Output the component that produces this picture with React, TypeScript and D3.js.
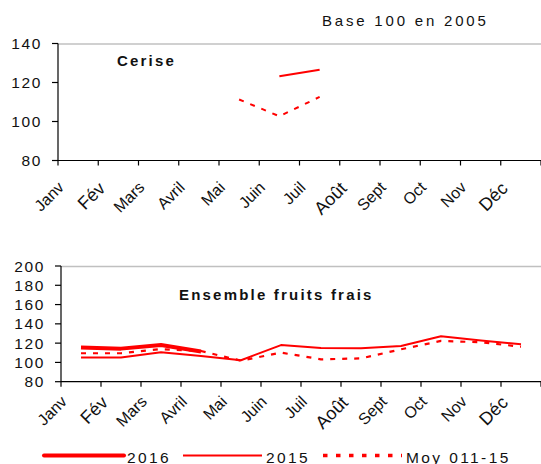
import * as d3 from 'd3'
import { useEffect, useRef } from 'react'

const months = ['Janv', 'Fév', 'Mars', 'Avril', 'Mai', 'Juin', 'Juil', 'Août', 'Sept', 'Oct', 'Nov', 'Déc']

// Cerise (top chart)
const cerise2015 = [null, null, null, null, null, 123.2, 126.5, null, null, null, null, null]
const ceriseMoy = [null, null, null, null, 111.3, 102.7, 112.6, null, null, null, null, null]
const ceriseTicks = [80, 100, 120, 140]

// Ensemble fruits frais (bottom chart)
const fruits2016 = [115.5, 114.3, 118, 111.3, null, null, null, null, null, null, null, null]
const fruits2015 = [105, 105.2, 110.5, 106.7, 102.3, 118, 115, 114.6, 117, 127.1, 122.8, 118.8]
const fruitsMoy = [109.5, 109.5, 113.8, 111.8, 101.8, 110.2, 103.2, 104.2, 113.6, 122.3, 120.9, 116.3]
const fruitsTicks = [80, 100, 120, 140, 160, 180, 200]

const legendItems = ['2016', '2015', 'Moy 011-15']

const FONT = '"Liberation Sans", Arial, sans-serif'
const RED = '#ff0000'

const App = () => {
  const svgRef = useRef<SVGSVGElement>(null)

  useEffect(() => {
    const svg = d3.select(svgRef.current)
    svg.selectAll('*').remove()

    const drawPanel = (cfg: any) => {
      const { left, right, top, bottom, domain, ticks, title, titleX, titleY, series, labelTop } = cfg
      const g = svg.append('g')
      const x = d3.scaleBand().domain(months).range([left, right])
      const y = d3.scaleLinear().domain(domain).range([bottom, top])

      // top border (gray)
      g.append('line')
        .attr('x1', left).attr('x2', right)
        .attr('y1', top + 0.5).attr('y2', top + 0.5)
        .attr('stroke', '#c0c0c0').attr('stroke-width', 1.5)

      // y axis
      g.append('line')
        .attr('x1', left).attr('x2', left)
        .attr('y1', top).attr('y2', bottom)
        .attr('stroke', '#000').attr('stroke-width', 1.2)
      ticks.forEach((t: number) => {
        g.append('line')
          .attr('x1', left - 6).attr('x2', left)
          .attr('y1', y(t)).attr('y2', y(t))
          .attr('stroke', '#000').attr('stroke-width', 1.2)
        g.append('text')
          .attr('x', left - 16).attr('y', y(t) + 5.5)
          .attr('text-anchor', 'end')
          .attr('font-size', 15.5)
          .attr('letter-spacing', 1.6)
          .attr('fill', '#111')
          .text(t)
      })

      // x axis
      g.append('line')
        .attr('x1', left).attr('x2', right)
        .attr('y1', bottom).attr('y2', bottom)
        .attr('stroke', '#000').attr('stroke-width', 1.2)
      const edges = months.map(m => x(m) as number).concat([right])
      edges.forEach(e => {
        g.append('line')
          .attr('x1', e).attr('x2', e)
          .attr('y1', bottom).attr('y2', bottom + 5)
          .attr('stroke', '#000').attr('stroke-width', 1.2)
      })
      months.forEach(m => {
        const px = (x(m) as number) - 1
        const py = bottom + labelTop
        const accent = /[éû]/.test(m)
        g.append('text')
          .attr('x', px).attr('y', py)
          .attr('text-anchor', 'end')
          .attr('dominant-baseline', 'hanging')
          .attr('font-size', accent ? 18 : 16)
          .attr('fill', '#111')
          .attr('transform', `rotate(-45, ${px}, ${py})`)
          .text(m)
      })

      // title
      g.append('text')
        .attr('x', titleX).attr('y', titleY)
        .attr('font-size', 15)
        .attr('font-weight', 'bold')
        .attr('letter-spacing', 2.2)
        .attr('fill', '#111')
        .text(title)

      // lines
      series.forEach((s: any) => {
        const line = d3.line<number | null>()
          .defined(d => d != null)
          .x((_, i) => (x(months[i]) as number) + x.bandwidth() / 2)
          .y(d => y(d as number))
        g.append('path')
          .attr('d', line(s.values))
          .attr('fill', 'none')
          .attr('stroke', RED)
          .attr('stroke-width', s.width)
          .attr('stroke-dasharray', s.dash || null)
          .attr('stroke-linejoin', 'round')
      })
    }

    drawPanel({
      left: 58, right: 541, top: 43.5, bottom: 160.5,
      domain: [80, 140], ticks: ceriseTicks,
      title: 'Cerise', titleX: 117, titleY: 66, labelTop: 20,
      series: [
        { values: ceriseMoy, width: 2, dash: '5,7' },
        { values: cerise2015, width: 2 },
      ],
    })

    drawPanel({
      left: 61, right: 541, top: 266, bottom: 381.7,
      domain: [80, 200], ticks: fruitsTicks,
      title: 'Ensemble fruits frais', titleX: 179, titleY: 300, labelTop: 13,
      series: [
        { values: fruitsMoy, width: 2.2, dash: '5,7' },
        { values: fruits2015, width: 2 },
        { values: fruits2016, width: 4 },
      ],
    })

    svg.append('text')
      .attr('x', 322).attr('y', 26)
      .attr('font-size', 15)
      .attr('letter-spacing', 2.8)
      .attr('fill', '#111')
      .text('Base 100 en 2005')

    // legend
    const legend = [
      { x1: 44, x2: 124, tx: 127, width: 4, dash: null },
      { x1: 183, x2: 262, tx: 266, width: 2, dash: null },
      { x1: 323, x2: 402, tx: 406, width: 3.5, dash: '4.5,8.5' },
    ]
    legendItems.forEach((name, i) => {
      const l = legend[i]
      svg.append('line')
        .attr('x1', l.x1).attr('x2', l.x2)
        .attr('y1', 455.5).attr('y2', 455.5)
        .attr('stroke', RED)
        .attr('stroke-width', l.width)
        .attr('stroke-dasharray', l.dash)
        .attr('stroke-linecap', i === 0 ? 'round' : 'butt')
      svg.append('text')
        .attr('x', l.tx).attr('y', 462.5)
        .attr('font-size', 15.5)
        .attr('letter-spacing', 2.4)
        .attr('fill', '#111')
        .text(name)
    })
  }, [])

  return (
    <svg
      ref={svgRef}
      width={541}
      height={464}
      style={{ position: 'absolute', left: 0, top: 0, fontFamily: FONT, background: '#fff' }}
    />
  )
}

export default App
